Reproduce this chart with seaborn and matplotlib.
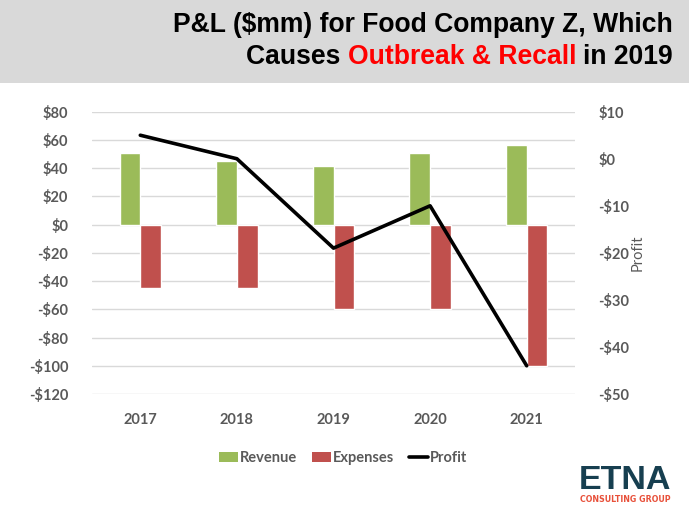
import numpy as np
import pandas as pd
import matplotlib
matplotlib.use("Agg")
import matplotlib.pyplot as plt
import seaborn as sns
from matplotlib.patches import Patch, Rectangle, Circle
from matplotlib.lines import Line2D

# ---- data ----
years = ["2017", "2018", "2019", "2020", "2021"]
revenue = [51, 45, 41.5, 51, 56.5]
expenses = [-45, -45, -60, -60, -100.5]
profit = [5, 0, -19, -10, -44]
left_ticks = [80, 60, 40, 20, 0, -20, -40, -60, -80, -100, -120]
right_ticks = [10, 0, -10, -20, -30, -40, -50]

GREEN = "#9bbb59"
RED = "#c0504d"
GRAY = "#595959"
TEAL = "#173f50"

sns.set_theme(style="white")
plt.rcParams["font.family"] = ["Lato", "DejaVu Sans"]

W, H = 689, 516
fig = plt.figure(figsize=(W / 100, H / 100), dpi=100)
fig.patch.set_facecolor("white")

def fx(x):
    return x / W

def fy(y):
    return 1 - y / H

# header band
fig.patches.append(Rectangle((0, fy(83)), 1, 83 / H, transform=fig.transFigure,
                             facecolor="#d9d9d9", edgecolor="none", zorder=0))

# logo (circle with chevron)
lax = fig.add_axes([fx(30), fy(63), 48 / W, 48 / H])
lax.set_xlim(-1.2, 1.2)
lax.set_ylim(-1.2, 1.2)
lax.set_aspect("equal")
lax.axis("off")
lax.add_patch(Circle((0, 0), 1.0, facecolor=TEAL, edgecolor="#c9d3d8", lw=1.0))
lax.add_patch(Circle((0, 0), 0.93, facecolor="none", edgecolor="#5f7d8a", lw=0.6))
lax.plot([-0.45, 0, 0.45], [-0.55, 0.55, -0.55], color="white", lw=3.2, solid_capstyle="butt")
lax.plot([-0.3, 0, 0.3], [-0.55, 0.2, -0.55], color="#e8603f", lw=1.0, solid_capstyle="butt")

# title
tfont = dict(family=["Liberation Sans", "DejaVu Sans"], weight="bold", fontsize=19.1)
fig.text(fx(673), fy(32.5), "P&L ($mm) for Food Company Z, Which", ha="right", va="baseline",
         color="black", **tfont)
fig.canvas.draw()
renderer = fig.canvas.get_renderer()
parts = [("in 2019", "black"), ("Outbreak & Recall ", "#ff0000"), ("Causes ", "black")]
xr = fx(673)
for txt, col in parts:
    t = fig.text(xr, fy(64), txt, ha="right", va="baseline", color=col, **tfont)
    bb = t.get_window_extent(renderer=renderer)
    xr -= bb.width / fig.bbox.width

# ---- main chart ----
ax = fig.add_axes([fx(92), fy(394), (575 - 92) / W, (394 - 111.7) / H])
df = pd.DataFrame({
    "year": years * 2,
    "value": revenue + expenses,
    "series": ["Revenue"] * len(years) + ["Expenses"] * len(years),
})
sns.barplot(data=df, x="year", y="value", hue="series", palette=[GREEN, RED],
            width=0.43, ax=ax, legend=False, saturation=1, errorbar=None, zorder=3)
ax.set_xlim(-0.5, 4.5)
ax.set_ylim(-120, 80)
ax.set_yticks(left_ticks)
ax.set_yticklabels([("-$%d" % abs(v)) if v < 0 else ("$%d" % v) for v in left_ticks])
ax.grid(axis="y", color="#d9d9d9", lw=1.0, zorder=0)
ax.grid(axis="x", visible=False)
ax.set_axisbelow(True)
for s in ax.spines.values():
    s.set_visible(False)
ax.set_xlabel("")
ax.set_ylabel("")
ax.tick_params(axis="both", length=0, labelsize=10.5, labelcolor=GRAY)
ax.tick_params(axis="y", pad=17)
ax.tick_params(axis="x", pad=14)
for lab in ax.get_xticklabels() + ax.get_yticklabels():
    lab.set_fontweight("bold")

ax2 = ax.twinx()
sns.lineplot(x=np.arange(len(years)), y=profit, color="black", lw=2.6, ax=ax2, zorder=5)
ax2.set_ylim(-50, 10)
ax2.set_xlim(-0.5, 4.5)
ax2.set_yticks(right_ticks)
ax2.set_yticklabels([("-$%d" % abs(v)) if v < 0 else ("$%d" % v) for v in right_ticks])
ax2.grid(False)
for s in ax2.spines.values():
    s.set_visible(False)
ax2.tick_params(axis="y", length=0, labelsize=10.5, labelcolor=GRAY, pad=17)
for lab in ax2.get_yticklabels():
    lab.set_fontweight("bold")
ax2.set_ylabel("Profit", color=GRAY, fontsize=10.5, labelpad=0.5)

# legend
handles = [Patch(facecolor=GREEN, edgecolor="none", label="Revenue"),
           Patch(facecolor=RED, edgecolor="none", label="Expenses"),
           Line2D([0], [0], color="black", lw=2.6, label="Profit")]
leg = fig.legend(handles=handles, loc="center", bbox_to_anchor=(fx(343), fy(458)), ncol=3,
                 frameon=False, handlelength=1.3, handleheight=0.62, handletextpad=0.15,
                 columnspacing=1.0, prop=dict(family=["Lato", "DejaVu Sans"], weight="bold", size=10.5))
for t in leg.get_texts():
    t.set_color(GRAY)

# ETNA logo text
fig.text(fx(625), fy(489), "ETNA", ha="center", va="baseline", color=TEAL,
         family=["Liberation Sans", "DejaVu Sans"], weight="bold", fontsize=24.5)
fig.text(fx(625), fy(502), "CONSULTING GROUP", ha="center", va="baseline", color="#e8503a",
         family=["DejaVu Sans"], weight="bold", fontsize=5.7)

fig.savefig("out.png", dpi=100)
